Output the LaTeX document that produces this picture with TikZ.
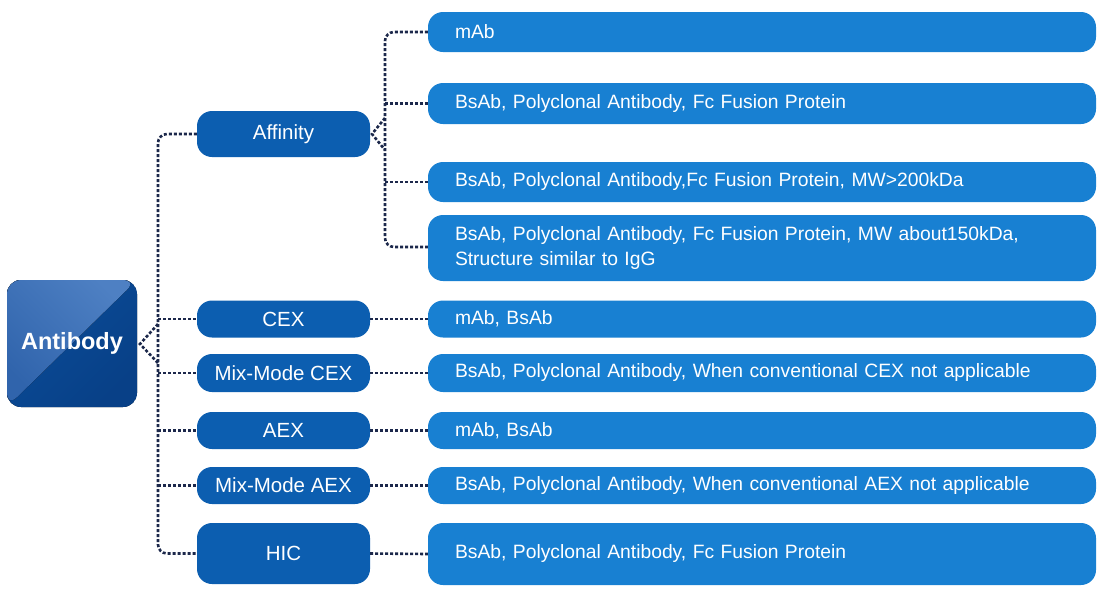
\documentclass[tikz,border=0pt]{standalone}
\usepackage{fontspec}
\setmainfont{Liberation Sans}
\begin{document}
\begin{tikzpicture}[x=1pt,y=-1pt,
  conn/.style={draw=lineC, line width=2.6pt, dash pattern=on 3pt off 2pt, rounded corners=9pt},
  midbox/.style={draw=none, fill=midC, rounded corners=15pt, minimum width=173pt, text=white,
    font=\fontsize{20.5}{24}\selectfont, inner sep=0pt},
  rightbox/.style={draw=none, fill=rightC, rounded corners=15pt, minimum width=668pt, text width=614pt,
    inner xsep=27pt, inner ysep=0pt, align=left, text=white, font=\fontsize{19.3}{24.5}\selectfont},
  rootbox/.style={rounded corners=14pt, minimum width=130pt, minimum height=127pt, text=white,
    font=\bfseries\fontsize{23.5}{27}\selectfont, inner sep=0pt}
]
\definecolor{lineC}{RGB}{28,40,75}
\definecolor{midC}{RGB}{12,94,176}
\definecolor{rightC}{RGB}{24,128,210}
\definecolor{abDark}{RGB}{10,76,152}
\definecolor{abDark2}{RGB}{8,64,135}
\definecolor{abLight}{RGB}{48,100,172}
\definecolor{abLight2}{RGB}{78,128,195}
\useasboundingbox (0,0) rectangle (1101,590);
\fill[white] (0,0) rectangle (1101,590);

% root
\node[rootbox, path picture={
  \fill[left color=abDark, right color=abDark2, shading angle=45]
    (path picture bounding box.north west) rectangle (path picture bounding box.south east);
  \fill[left color=abLight, right color=abLight2, shading angle=135]
    (path picture bounding box.north west) -- (path picture bounding box.north east)
    -- (path picture bounding box.south west) -- cycle;
}] (ab) at (72,343.5) {Antibody};

% middle
\node[midbox, minimum height=46pt] (aff) at (283.5,134) {Affinity};
\node[midbox, minimum height=37pt] (cex) at (283.5,319) {CEX};
\node[midbox, minimum height=38pt] (mcex) at (283.5,373) {Mix-Mode CEX};
\node[midbox, minimum height=37pt] (aex) at (283.5,430.5) {AEX};
\node[midbox, minimum height=37pt] (maex) at (283.5,485.5) {Mix-Mode AEX};
\node[midbox, minimum height=61pt] (hic) at (283.5,553.5) {HIC};

% right
\node[rightbox, minimum height=40pt] (r1) at (762,32) {mAb};
\node[rightbox, minimum height=41pt] (r2) at (762,103.5) {BsAb, Polyclonal Antibody, Fc Fusion Protein};
\node[rightbox, minimum height=40pt] (r3) at (762,182) {BsAb, Polyclonal Antibody,Fc Fusion Protein, MW>200kDa};
\node[rightbox, minimum height=66pt] (r4) at (762,248) {\mbox{BsAb, Polyclonal Antibody, Fc Fusion Protein, MW about150kDa,}\\Structure similar to IgG};
\node[rightbox, minimum height=37pt] (r5) at (762,319) {mAb, BsAb};
\node[rightbox, minimum height=38pt] (r6) at (762,373) {BsAb, Polyclonal Antibody, When conventional CEX not applicable};
\node[rightbox, minimum height=37pt] (r7) at (762,430.5) {mAb, BsAb};
\node[rightbox, minimum height=37pt] (r8) at (762,485.5) {BsAb, Polyclonal Antibody, When conventional AEX not applicable};
\node[rightbox, minimum height=62pt] (r9) at (762,554) {BsAb, Polyclonal Antibody, Fc Fusion Protein};

% main trunk
\coordinate (mt) at (158,134);
\coordinate (mb) at (158,553.5);
\coordinate (ma) at (158,324);
\coordinate (mc) at (158,363);
\coordinate (mtip) at (140,344);
\draw[conn] (aff.west) -- (mt) -- (mb) -- (hic.west);
\draw[conn, rounded corners=0pt] (ma) -- (mtip) -- (mc);
\draw[conn] (158,319) -- (cex.west);
\draw[conn] (158,373) -- (mcex.west);
\draw[conn] (158,430.5) -- (aex.west);
\draw[conn] (158,485.5) -- (maex.west);

% affinity trunk
\coordinate (at) at (385,32);
\coordinate (abt) at (385,247);
\coordinate (aa) at (385,118);
\coordinate (ac) at (385,150);
\coordinate (atip) at (372,134);
\draw[conn] (r1.west) -- (at) -- (abt) -- (r4.west |- abt);
\draw[conn, rounded corners=0pt] (aa) -- (atip) -- (ac);
\draw[conn] (385,103.5) -- (r2.west);
\draw[conn] (385,182) -- (r3.west);

% middle to right
\draw[conn] (cex.east) -- (r5.west);
\draw[conn] (mcex.east) -- (r6.west);
\draw[conn] (aex.east) -- (r7.west);
\draw[conn] (maex.east) -- (r8.west);
\draw[conn] (hic.east) -- (r9.west);
\end{tikzpicture}
\end{document}
